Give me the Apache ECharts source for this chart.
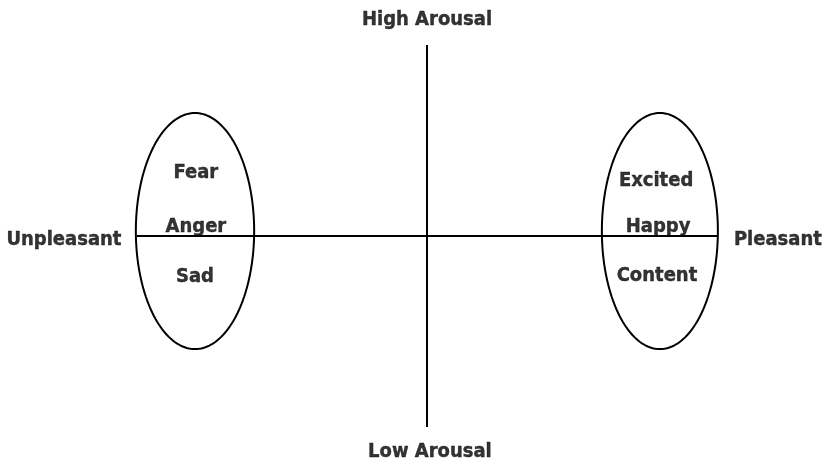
<!DOCTYPE html>
<html><head><meta charset="utf-8">
<script src="https://cdn.jsdelivr.net/npm/echarts@6/dist/echarts.min.js"></script>
<style>html,body{margin:0;padding:0;background:#fff}#c{width:826px;height:463px}</style>
</head><body><div id="c"></div>
<script>
// Axes of the circumplex (valence x, arousal y), in unit coordinates
const axisLines = [
  [[-1, 0], [1, 0]],   // valence axis
  [[0, 1], [0, -1]]    // arousal axis
];
const axisLabels = ['High Arousal', 'Low Arousal', 'Unpleasant', 'Pleasant'];
const axisLabelPos = [[0, 1.13], [0.01, -1.13], [-1.252, -0.02], [1.21, -0.02]];
// Emotion groups (ellipses): center x, center y, radius x, radius y
const groupNames = ['Unpleasant group', 'Pleasant group'];
const groupEllipses = [[-0.8, 0.026, 0.204, 0.618], [0.803, 0.026, 0.2, 0.618]];
const emotions = ['Fear', 'Anger', 'Sad', 'Excited', 'Happy', 'Content'];
const emotionPos = [[-0.797, 0.33], [-0.797, 0.048], [-0.80, -0.214], [0.79, 0.288], [0.797, 0.048], [0.793, -0.209]];

const FONT = '"DejaVu Sans Condensed", "DejaVu Sans", sans-serif';
const textStyle = { show: true, position: 'inside', color: '#000', fontWeight: 'bold', fontSize: 20, fontFamily: FONT,
  textBorderColor: '#000', textBorderWidth: 0.4 };

const chart = echarts.init(document.getElementById('c'), null, { renderer: 'canvas' });
chart.setOption({
  backgroundColor: '#fff',
  animation: false,
  grid: { left: 137, right: 109, top: 45, bottom: 36 },
  xAxis: { type: 'value', min: -1, max: 1, show: false },
  yAxis: { type: 'value', min: -1, max: 1, show: false },
  series: [
    ...axisLines.map(l => ({
      type: 'line', data: l, symbol: 'none', silent: true,
      lineStyle: { color: '#000', width: 2 }
    })),
    {
      type: 'custom', silent: true, clip: false,
      data: groupEllipses,
      renderItem: function (params, api) {
        const c = api.coord([api.value(0), api.value(1)]);
        const s = api.size([api.value(2), api.value(3)]);
        const pts = [];
        for (let i = 0; i <= 180; i++) {
          const t = i / 180 * Math.PI * 2;
          pts.push([c[0] + s[0] * Math.cos(t), c[1] + s[1] * Math.sin(t)]);
        }
        return { type: 'polygon', shape: { points: pts }, style: { fill: null, stroke: '#000', lineWidth: 2 } };
      }
    },
    {
      type: 'scatter', clip: false, silent: true, symbolSize: 1,
      itemStyle: { color: 'rgba(0,0,0,0)' },
      data: emotions.map((n, i) => ({ name: n, value: emotionPos[i] })),
      label: Object.assign({ formatter: '{b}' }, textStyle)
    },
    {
      type: 'scatter', clip: false, silent: true, symbolSize: 1,
      itemStyle: { color: 'rgba(0,0,0,0)' },
      data: axisLabels.map((n, i) => ({ name: n, value: axisLabelPos[i] })),
      label: Object.assign({ formatter: '{b}' }, textStyle)
    }
  ]
});
</script></body></html>
